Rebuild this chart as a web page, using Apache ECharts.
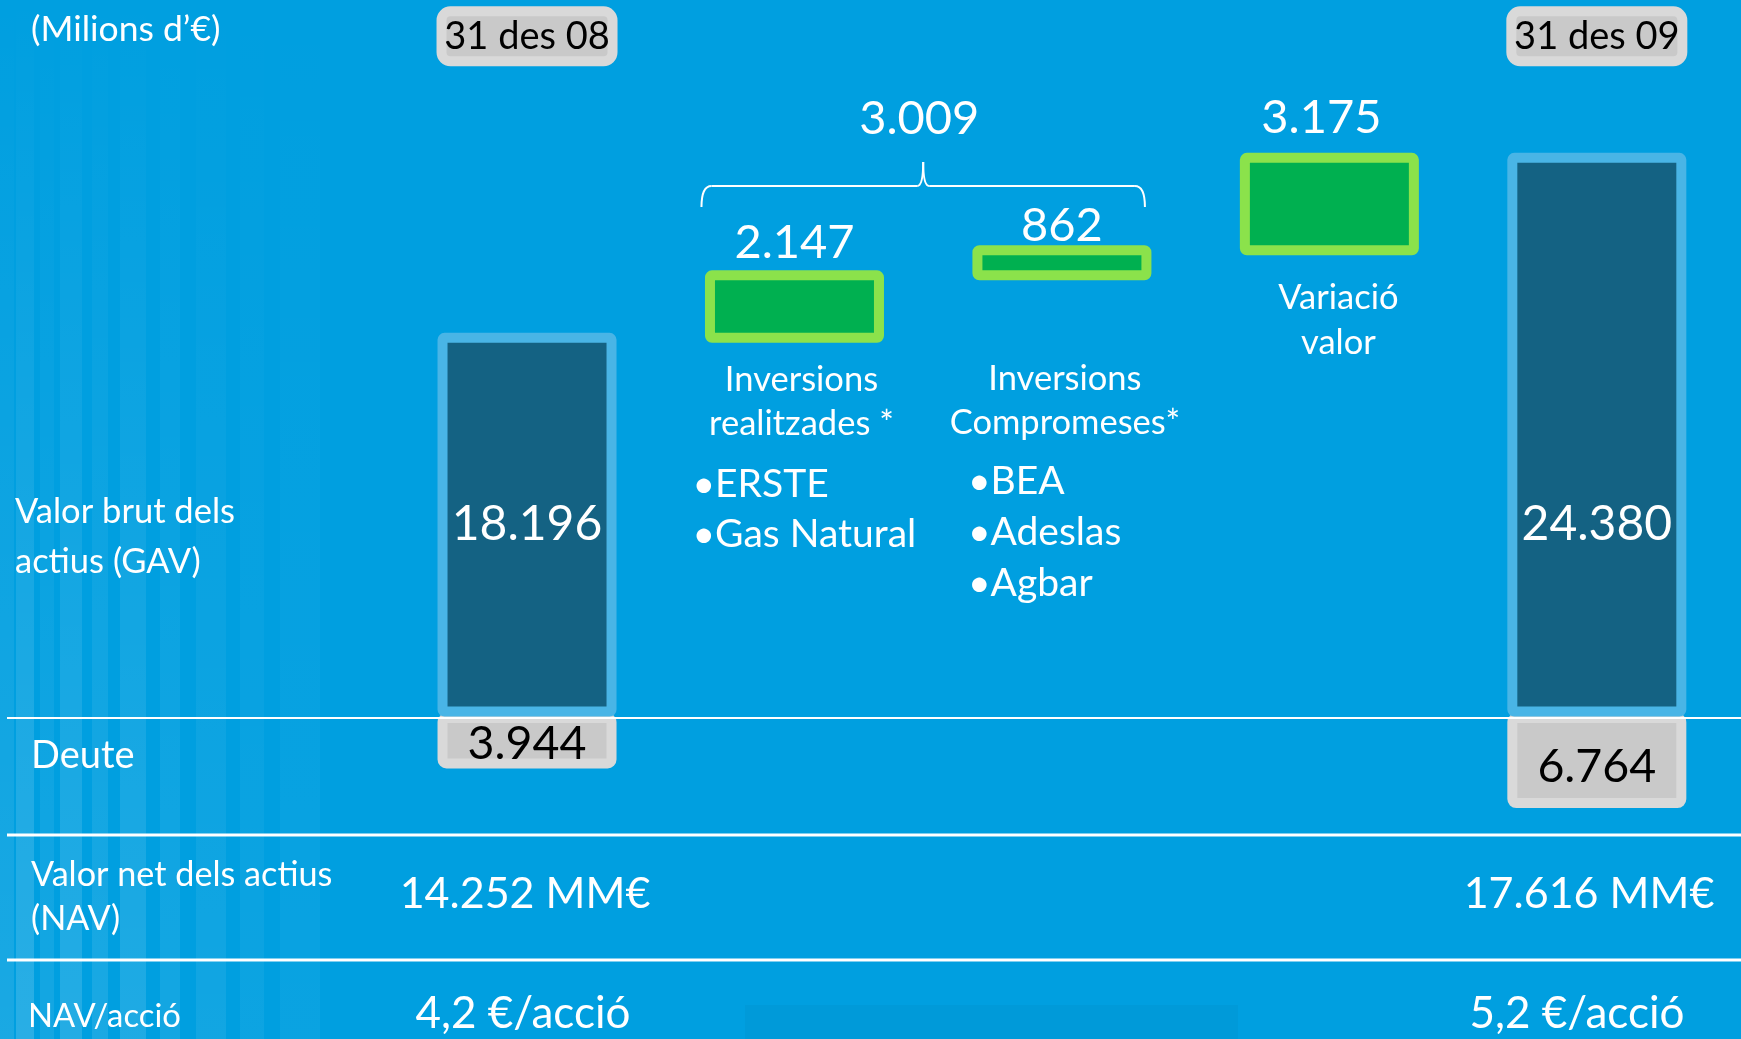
<!DOCTYPE html>
<html>
<head>
<meta charset="utf-8">
<title>Valor brut dels actius</title>
<script src="https://cdn.jsdelivr.net/npm/echarts@6/dist/echarts.min.js"></script>
<style>
  html, body { margin: 0; padding: 0; background: #009fe0; }
  #chart { width: 1741px; height: 1039px; }
</style>
</head>
<body>
<div id="chart"></div>
<script>
// ---- data (milions d'€) ----
const categories = ['31 des 08', 'Inversions\nrealitzades *', 'Inversions\nCompromeses*', 'Variació\nvalor', '31 des 09'];
const gavValues = [18196, 2147, 862, 3175, 24380];      // GAV inicial, moviments, GAV final
const debtValues = [3944, null, null, null, 6764];      // deute a cada data
const navPerShare = [4.2, 5.2];                          // €/acció
const investmentsDone = ['ERSTE', 'Gas Natural'];
const investmentsCommitted = ['BEA', 'Adeslas', 'Agbar'];
const rowLabels = ['Valor brut dels\nactius (GAV)', 'Deute', 'Valor net dels actius\n(NAV)', 'NAV/acció'];
const unitLabel = '(Milions d’€)';

// ---- helpers ----
const FONT = 'Lato, "Open Sans", "Noto Sans", sans-serif';
const fmtInt = n => String(n).replace(/\B(?=(\d{3})+(?!\d))/g, '.');
const fmtDec = n => n.toFixed(1).replace('.', ',');
const last = gavValues.length - 1;
const isTotal = i => i === 0 || i === last;

// waterfall ranges [category, from, to]; totals rise from zero
const gavRanges = gavValues.map((v, i) => {
  if (isTotal(i)) return [i, 0, v];
  let s = gavValues[0];
  for (let j = 1; j < i; j++) s += gavValues[j];
  return [i, s, s + v];
});

const debtData = debtValues.map((v, i) => {
  if (v == null) return '-';
  return { value: v, label: { offset: [0, i === 0 ? 3 : 6] } };
});

const navValues = [gavValues[0] - debtValues[0], gavValues[last] - debtValues[last]];

const chart = echarts.init(document.getElementById('chart'), null, { renderer: 'canvas' });

const GRID_LEFT = 393.3, GRID_W = 1337.25, BASE_Y = 711.5, GRID_TOP = 139.8;
const Y_MIN = 5360, Y_MAX = 25000;
const BAR_W = 169;
const topLabel = { 1: { d: 4, dx: 0 }, 2: { d: -4.5, dx: 0 }, 3: { d: 12, dx: -8 } };

function renderBlock(params, api) {
  const i = api.value(0);
  const from = api.value(1), to = api.value(2);
  const pLo = api.coord([i, Math.max(from, Y_MIN)]);
  const pHi = api.coord([i, to]);
  const total = isTotal(i);
  const text = fmtInt(to - from);
  let textConfig;
  const textStyle = { text: text, fill: '#ffffff', stroke: 'none', fontFamily: FONT, fontSize: 47 };
  if (!total) {
    textConfig = { position: 'top', distance: topLabel[i].d, offset: [topLabel[i].dx, 0] };
  } else if (i === 0) {
    textConfig = { position: 'inside', insideFill: '#ffffff', insideStroke: '#146283' };
    textStyle.fontSize = 48;
  } else {
    textConfig = { position: ['50%', '66%'], insideFill: '#ffffff', insideStroke: '#146283' };
    textStyle.align = 'center';
    textStyle.verticalAlign = 'middle';
    textStyle.fontSize = 48;
  }
  return {
    type: 'rect',
    shape: { x: pHi[0] - BAR_W / 2, y: pHi[1], width: BAR_W, height: pLo[1] - pHi[1], r: 2 },
    style: {
      fill: total ? '#146283' : '#00b050',
      stroke: total ? '#49b5e6' : '#8be24b',
      lineWidth: 10
    },
    textContent: { style: textStyle },
    textConfig: textConfig
  };
}

chart.setOption({
  backgroundColor: '#009fe0',
  animation: false,
  grid: [
    { left: GRID_LEFT, width: GRID_W, top: GRID_TOP, height: BASE_Y - GRID_TOP, outerBoundsMode: 'none', containLabel: false },
    { left: GRID_LEFT, width: GRID_W, top: 713, height: 112.4, outerBoundsMode: 'none', containLabel: false }
  ],
  xAxis: [
    {
      gridIndex: 0, type: 'category', data: categories, position: 'top',
      axisLine: { show: false }, axisTick: { show: false }, splitLine: { show: false },
      axisLabel: {
        interval: i => isTotal(i),
        margin: 83.5,
        formatter: v => '{box|' + v + '}',
        rich: {
          box: {
            width: 161, height: 40, lineHeight: 40, align: 'center', verticalAlign: 'middle',
            backgroundColor: '#c9c9c9', borderColor: '#d9d9d9', borderWidth: 10, borderRadius: 4,
            fontFamily: FONT, fontSize: 38, color: '#000000'
          }
        }
      }
    },
    { gridIndex: 1, type: 'category', data: categories, show: false }
  ],
  yAxis: [
    { gridIndex: 0, type: 'value', min: Y_MIN, max: Y_MAX, show: false, splitLine: { show: false } },
    { gridIndex: 1, type: 'value', min: 0, max: 8000, inverse: true, show: false, splitLine: { show: false } }
  ],
  series: [
    {
      name: 'Deute', type: 'bar', xAxisIndex: 1, yAxisIndex: 1, barWidth: 179, z: 1,
      data: debtData,
      itemStyle: { color: '#c9c9c9', borderColor: '#d9d9d9', borderWidth: 10, borderRadius: 4 },
      label: {
        show: true, position: 'inside', formatter: p => fmtInt(p.value),
        fontFamily: FONT, fontSize: 46.5, color: '#000000', textBorderWidth: 0
      }
    },
    {
      name: 'GAV', type: 'custom', xAxisIndex: 0, yAxisIndex: 0, z: 3,
      encode: { x: 0, y: [1, 2] },
      data: gavRanges,
      renderItem: renderBlock
    }
  ]
});

// ---- annotations placed from the category axis ----
const colX = categories.map((c, i) => chart.convertToPixel({ xAxisIndex: 0 }, i));
const W = 1741, H = 1039;
const txt = (x, y, text, size, extra) => ({
  type: 'text', x: x, y: y, z: 20, silent: true,
  style: Object.assign({ text: text, fill: '#ffffff', fontFamily: FONT, fontSize: size }, extra || {})
});

const graphics = [];

// soft vertical stripes on the left edge
const stripes = [[0, 14, 0.10], [16, 18, 0.16], [40, 14, 0.08], [60, 22, 0.14], [92, 16, 0.10],
                 [120, 26, 0.12], [160, 20, 0.08], [196, 30, 0.07], [240, 24, 0.05], [280, 40, 0.04]];
stripes.forEach(s => graphics.push({
  type: 'rect', z: 0, silent: true,
  shape: { x: s[0], y: 0, width: s[1], height: H },
  style: {
    fill: new echarts.graphic.LinearGradient(0, 0, 0, 1, [
      { offset: 0, color: 'rgba(255,255,255,0)' },
      { offset: 0.35, color: 'rgba(255,255,255,' + (s[2] * 0.4) + ')' },
      { offset: 1, color: 'rgba(255,255,255,' + s[2] + ')' }
    ])
  }
}));
// slightly darker panel at the foot
graphics.push({ type: 'rect', z: 0, silent: true, shape: { x: 745, y: 1005, width: 493, height: 40 }, style: { fill: '#009ad9' } });

// row separators
[[718, 2], [835, 3], [960, 3]].forEach(l => graphics.push({
  type: 'line', z: 30, silent: true,
  shape: { x1: 7, y1: l[0], x2: W, y2: l[0] },
  style: { stroke: '#ffffff', lineWidth: l[1] }
}));

// unit and row labels
graphics.push(txt(31, 30, unitLabel, 35.5, { verticalAlign: 'middle' }));
graphics.push(txt(15, 487, rowLabels[0], 34.5, { verticalAlign: 'top', lineHeight: 50 }));
graphics.push(txt(31, 756, rowLabels[1], 38, { verticalAlign: 'middle' }));
graphics.push(txt(31, 853, rowLabels[2], 34.2, { verticalAlign: 'top', lineHeight: 44 }));
graphics.push(txt(28, 1016, rowLabels[3], 32.8, { verticalAlign: 'middle' }));

// brace over the two investment blocks with their sum
const bl = colX[1] - 93, br = colX[2] + 83, bm = (bl + br) / 2;
const braceStyle = { stroke: '#ffffff', lineWidth: 2, fill: null };
const yEnd = 207, yMid = 186, yTip = 162;
[
  { type: 'bezierCurve', shape: { x1: bl, y1: yEnd, cpx1: bl, cpy1: yMid, x2: bl + 10, y2: yMid } },
  { type: 'line', shape: { x1: bl + 10, y1: yMid, x2: bm - 6, y2: yMid } },
  { type: 'bezierCurve', shape: { x1: bm - 6, y1: yMid, cpx1: bm, cpy1: yMid, x2: bm, y2: yTip } },
  { type: 'bezierCurve', shape: { x1: bm, y1: yTip, cpx1: bm, cpy1: yMid, x2: bm + 6, y2: yMid } },
  { type: 'line', shape: { x1: bm + 6, y1: yMid, x2: br - 10, y2: yMid } },
  { type: 'bezierCurve', shape: { x1: br - 10, y1: yMid, cpx1: br, cpy1: yMid, x2: br, y2: yEnd } }
].forEach(el => graphics.push(Object.assign(el, { z: 20, silent: true, style: braceStyle })));
graphics.push(txt(bm - 4, 119, fmtInt(gavValues[1] + gavValues[2]), 47, { align: 'center', verticalAlign: 'middle' }));

// movement titles under the green blocks
graphics.push(txt(colX[1] + 7, 358, categories[1], 34.5, { align: 'center', verticalAlign: 'top', lineHeight: 44 }));
graphics.push(txt(colX[2] + 3, 357, categories[2], 34.5, { align: 'center', verticalAlign: 'top', lineHeight: 44 }));
graphics.push(txt(colX[3] + 9, 275, categories[3], 34.5, { align: 'center', verticalAlign: 'top', lineHeight: 45 }));

// bullet lists
graphics.push(txt(colX[1] - 102, 459, investmentsDone.map(s => '•' + s).join('\n'), 39, { verticalAlign: 'top', lineHeight: 50 }));
graphics.push(txt(colX[2] - 94, 456, investmentsCommitted.map(s => '•' + s).join('\n'), 39, { verticalAlign: 'top', lineHeight: 51 }));

// NAV rows
graphics.push(txt(525, 894, fmtInt(navValues[0]) + ' MM€', 43, { align: 'center', verticalAlign: 'middle' }));
graphics.push(txt(1589, 894, fmtInt(navValues[1]) + ' MM€', 43, { align: 'center', verticalAlign: 'middle' }));
graphics.push(txt(523, 1014, fmtDec(navPerShare[0]) + ' €/acció', 44, { align: 'center', verticalAlign: 'middle' }));
graphics.push(txt(1577, 1014, fmtDec(navPerShare[1]) + ' €/acció', 44, { align: 'center', verticalAlign: 'middle' }));

chart.setOption({ graphic: { elements: graphics } });
</script>
</body>
</html>
